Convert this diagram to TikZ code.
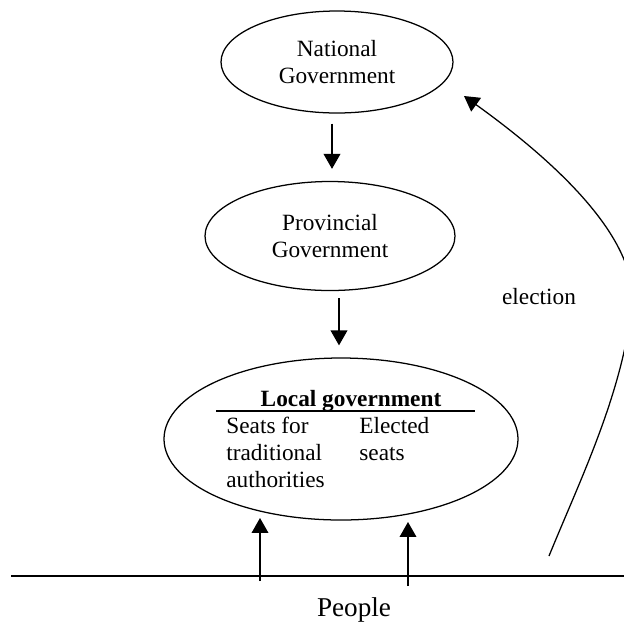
\documentclass[tikz,border=0pt]{standalone}
\usepackage{fontspec}
\setmainfont{Liberation Serif}
\usetikzlibrary{arrows.meta,calc,shapes.geometric}
\def\pxu{0.515pt}
\tikzset{
  ln/.style={line width=0.65pt},
  arr/.style={ln,-{Triangle[length=7.7pt,width=8.6pt]}},
  oval/.style={ln,draw,ellipse,inner sep=0pt,align=center,
    font=\fontsize{12}{13.9}\selectfont},
  txt/.style={inner sep=0pt,font=\fontsize{12}{13.9}\selectfont}
}
\begin{document}
\begin{tikzpicture}[x=0.515pt,y=-0.515pt]
\useasboundingbox (0,0) rectangle (624,623);
% ellipses
\node[oval,minimum width=232*\pxu,minimum height=102*\pxu] (nat) at (337,62) {National\\Government};
\node[oval,minimum width=250*\pxu,minimum height=109*\pxu] (prov) at (330,236) {Provincial\\Government};
\node[oval,minimum width=354*\pxu,minimum height=162*\pxu] (loc) at (341,439) {};
% local government contents
\node[txt,anchor=base,font=\fontsize{12}{13.9}\selectfont\bfseries] (lgt) at (351,406) {Local government};
\coordinate (ul1) at (216,411);
\coordinate (ul2) at (475,411);
\draw[ln] (ul1) -- (ul2);
\node[txt,anchor=base west] (s1) at (226,433) {Seats for};
\node[txt,anchor=base west] (s2) at (226,460) {traditional};
\node[txt,anchor=base west] (s3) at (226,487) {authorities};
\node[txt,anchor=base west] (e1) at (359,433) {Elected};
\node[txt,anchor=base west] (e2) at (359,460) {seats};
% downward arrows
\draw[arr] ($(nat.south)+(-5,10)$) -- ($(prov.north)+(2,-12)$);
\draw[arr] ($(prov.south)+(9,7)$) -- ($(loc.north)+(-2,-12)$);
% people line
\coordinate (pl) at (11,576);
\coordinate (pr) at (624,576);
\draw[ln] (pl) -- (pr);
\node[txt,anchor=base,font=\fontsize{14}{16}\selectfont] (people) at (354,616) {People};
% upward arrows
\coordinate (a1s) at (260,581);
\coordinate (a1e) at (260,518);
\coordinate (a2s) at (408,586);
\coordinate (a2e) at (408,522);
\draw[arr] (a1s) -- (a1e);
\draw[arr] (a2s) -- (a2e);
% election
\node[txt,anchor=base] (elec) at (539,304) {election};
\coordinate (el0) at (549,556);
\coordinate (elm) at (632,305);
\coordinate (el1) at (464,96);
\begin{scope}
\clip (0,0) rectangle (624,623);
\draw[arr] (el0) .. controls (580,480) and (622,395) .. (elm)
  .. controls (638,240) and (560,165) .. (el1);
\end{scope}
\end{tikzpicture}
\end{document}
